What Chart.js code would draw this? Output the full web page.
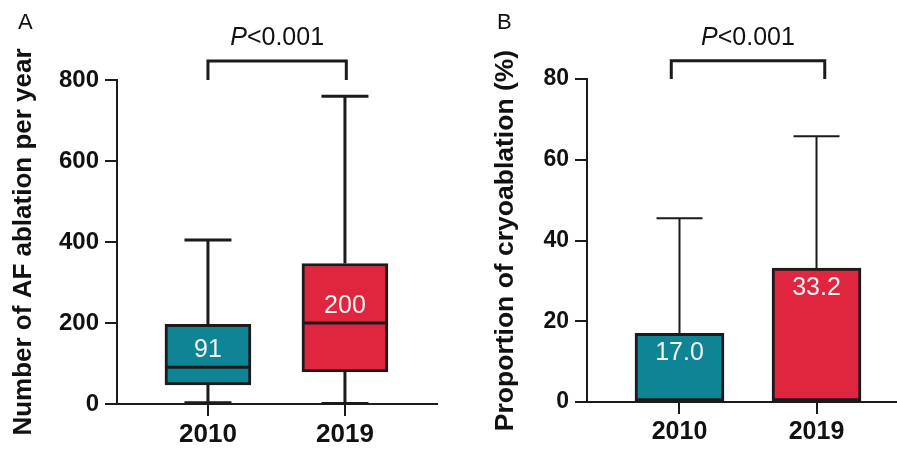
<!DOCTYPE html>
<html>
<head>
<meta charset="utf-8">
<script src="https://cdn.jsdelivr.net/npm/chart.js@4/dist/chart.umd.min.js"></script>
<style>
  html, body { margin: 0; padding: 0; background: #fff; }
  #wrap { position: relative; width: 897px; height: 451px; }
  canvas { position: absolute; top: 0; }
  #chartA { left: 0; }
  #chartB { left: 448px; }
</style>
</head>
<body>
<div id="wrap">
  <canvas id="chartA" width="448" height="451"></canvas>
  <canvas id="chartB" width="449" height="451"></canvas>
</div>
<script>
// data
const categories = ['2010', '2019'];
const colors = ['#0f8494', '#e0263f'];

// panel A: box plot of ablations per year
const whiskerLow = [3, 1];
const q1 = [47, 79];
const median = [91, 200];
const q3 = [197, 347];
const whiskerHigh = [405, 760];
const ticksA = [0, 200, 400, 600, 800];

// panel B: proportion of cryoablation
const proportion = [17.0, 33.2];
const errorHigh = [45.5, 65.8];
const ticksB = [0, 20, 40, 60, 80];

const pText = 'P<0.001';
const FONT = "'Liberation Sans', Arial, sans-serif";
const ink = '#1b1b1b';

function pTextDraw(ctx, x, y) {
  ctx.save();
  ctx.fillStyle = '#111';
  ctx.textBaseline = 'alphabetic';
  ctx.font = 'italic 25px ' + FONT;
  const wP = ctx.measureText('P').width;
  ctx.font = '25px ' + FONT;
  const wR = ctx.measureText(pText.slice(1)).width;
  let start = x - (wP + wR) / 2;
  ctx.textAlign = 'left';
  ctx.font = 'italic 25px ' + FONT;
  ctx.fillText('P', start, y);
  ctx.font = '25px ' + FONT;
  ctx.fillText(pText.slice(1), start + wP, y);
  ctx.restore();
}

function bracket(chart, x1, x2, yTop, yEnd) {
  const {ctx, scales: {x, y}} = chart;
  const px1 = x.getPixelForValue(x1), px2 = x.getPixelForValue(x2);
  const pt = y.getPixelForValue(yTop), pe = y.getPixelForValue(yEnd);
  ctx.save();
  ctx.strokeStyle = ink;
  ctx.lineWidth = 3;
  ctx.lineCap = 'butt';
  ctx.beginPath();
  ctx.moveTo(px1, pe);
  ctx.lineTo(px1, pt);
  ctx.lineTo(px2, pt);
  ctx.lineTo(px2, pe);
  ctx.stroke();
  ctx.restore();
  pTextDraw(ctx, (px1 + px2) / 2, pt - 16);
}

function panelLetter(ctx, letter, x) {
  ctx.save();
  ctx.fillStyle = '#111';
  ctx.font = '22px ' + FONT;
  ctx.textAlign = 'left';
  ctx.textBaseline = 'alphabetic';
  ctx.fillText(letter, x, 29);
  ctx.restore();
}

const boxPlugin = {
  id: 'boxParts',
  afterDatasetsDraw(chart) {
    const {ctx, scales: {x, y}} = chart;
    ctx.save();
    ctx.strokeStyle = ink;
    ctx.lineWidth = 3;
    categories.forEach((c, i) => {
      const cx = x.getPixelForValue(i + 1);
      const half = 43;
      const cap = 23.5;
      // whiskers
      ctx.beginPath();
      ctx.moveTo(cx, y.getPixelForValue(q3[i]));
      ctx.lineTo(cx, y.getPixelForValue(whiskerHigh[i]));
      ctx.moveTo(cx - cap, y.getPixelForValue(whiskerHigh[i]));
      ctx.lineTo(cx + cap, y.getPixelForValue(whiskerHigh[i]));
      ctx.moveTo(cx, y.getPixelForValue(q1[i]));
      ctx.lineTo(cx, y.getPixelForValue(whiskerLow[i]));
      ctx.moveTo(cx - cap, y.getPixelForValue(whiskerLow[i]));
      ctx.lineTo(cx + cap, y.getPixelForValue(whiskerLow[i]));
      // median
      ctx.moveTo(cx - half, y.getPixelForValue(median[i]));
      ctx.lineTo(cx + half, y.getPixelForValue(median[i]));
      ctx.stroke();
      // median label
      ctx.fillStyle = '#f2f2f2';
      ctx.font = '25px ' + FONT;
      ctx.textAlign = 'center';
      ctx.textBaseline = 'middle';
      ctx.fillText(String(median[i]), cx, y.getPixelForValue(median[i]) - 17);
    });
    ctx.restore();
    bracket(chart, 1, 2.01, 847, 800);
    panelLetter(ctx, 'A', 18);
  }
};

const errPlugin = {
  id: 'errParts',
  beforeDatasetsDraw(chart) {
    const {ctx, scales: {x, y}} = chart;
    ctx.save();
    ctx.strokeStyle = ink;
    ctx.lineWidth = 2;
    categories.forEach((c, i) => {
      const cx = x.getPixelForValue(i + 1);
      const cap = 23;
      ctx.beginPath();
      ctx.moveTo(cx, y.getPixelForValue(proportion[i]));
      ctx.lineTo(cx, y.getPixelForValue(errorHigh[i]));
      ctx.moveTo(cx - cap, y.getPixelForValue(errorHigh[i]));
      ctx.lineTo(cx + cap, y.getPixelForValue(errorHigh[i]));
      ctx.stroke();
    });
    ctx.restore();
  },
  afterDatasetsDraw(chart) {
    const {ctx, scales: {x, y}} = chart;
    ctx.save();
    ctx.fillStyle = '#f2f2f2';
    ctx.font = '25px ' + FONT;
    ctx.textAlign = 'center';
    ctx.textBaseline = 'middle';
    categories.forEach((c, i) => {
      const cx = x.getPixelForValue(i + 1);
      ctx.fillText(proportion[i].toFixed(1), cx, y.getPixelForValue(proportion[i]) + 20);
    });
    ctx.restore();
    bracket(chart, 0.94, 2.06, 84.5, 80);
    panelLetter(ctx, 'B', 497 - 448);
  }
};

function xScale(min, max, size, height) {
  return {
    type: 'linear',
    min: min,
    max: max,
    offset: false,
    afterBuildTicks: s => { s.ticks = categories.map((c, i) => ({value: i + 1})); },
    ticks: {
      callback: v => categories[v - 1],
      font: {family: FONT, size: size, weight: 'bold'},
      color: '#111',
      padding: 3,
      maxRotation: 0,
      autoSkip: false
    },
    grid: {offset: false, drawOnChartArea: false, tickLength: 12, color: ink, lineWidth: 2},
    border: {color: ink, width: 2},
    afterFit: s => { s.height = height; }
  };
}

function yScale(max, step, tickVals, title, titleSize, titlePad, width, size) {
  return {
    min: 0,
    max: max,
    afterBuildTicks: s => { s.ticks = tickVals.map(v => ({value: v})); },
    ticks: {
      font: {family: FONT, size: size, weight: 'bold'},
      color: '#111',
      padding: 6
    },
    grid: {drawOnChartArea: false, tickLength: 12, color: ink, lineWidth: 2},
    border: {color: ink, width: 2},
    title: {
      display: true,
      text: title,
      font: {family: FONT, size: titleSize, weight: 'bold'},
      color: '#111',
      padding: {top: titlePad, bottom: 0}
    },
    afterFit: s => { s.width = width; }
  };
}

const baseOpts = {
  responsive: false,
  animation: false,
  devicePixelRatio: 1,
  plugins: {legend: {display: false}, tooltip: {enabled: false}}
};

new Chart(document.getElementById('chartA'), {
  type: 'bar',
  data: {
    datasets: [{
      data: categories.map((c, i) => ({x: i + 1, y: [q1[i], q3[i]]})),
      backgroundColor: colors,
      borderColor: ink,
      borderWidth: 3,
      borderSkipped: false,
      barThickness: 86
    }]
  },
  options: Object.assign({}, baseOpts, {
    layout: {padding: {top: 80, right: 11, left: 0, bottom: 0}},
    scales: {
      x: xScale(0.336, 2.672, 26, 47),
      y: yScale(800, 200, ticksA, 'Number of AF ablation per year', 26, 8, 117, 24)
    }
  }),
  plugins: [boxPlugin]
});

new Chart(document.getElementById('chartB'), {
  type: 'bar',
  data: {
    datasets: [{
      data: categories.map((c, i) => ({x: i + 1, y: proportion[i]})),
      backgroundColor: colors,
      borderColor: ink,
      borderWidth: 3,
      borderSkipped: false,
      barThickness: 89
    }]
  },
  options: Object.assign({}, baseOpts, {
    layout: {padding: {top: 79, right: 1, left: 0, bottom: 0}},
    scales: {
      x: xScale(0.325, 2.58, 25, 49),
      y: yScale(80, 20, ticksB, 'Proportion of cryoablation (%)', 26.5, 42, 139, 23)
    }
  }),
  plugins: [errPlugin]
});
</script>
</body>
</html>
